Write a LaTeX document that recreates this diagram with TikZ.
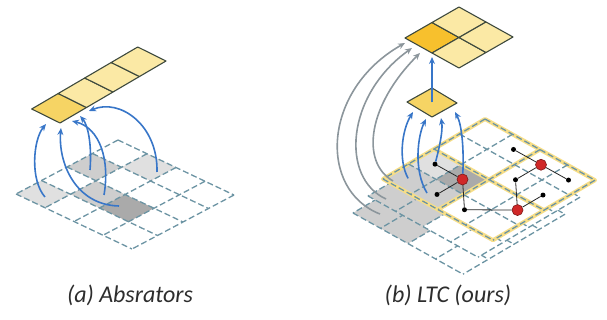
\documentclass[tikz,border=0pt]{standalone}
\usepackage{fontspec}
\setmainfont{Carlito}
\usetikzlibrary{arrows.meta}

\definecolor{gridc}{RGB}{108,148,163}
\definecolor{celllight}{RGB}{251,233,165}
\definecolor{cellmid}{RGB}{246,212,100}
\definecolor{celldark}{RGB}{247,192,45}
\definecolor{cellline}{RGB}{62,74,62}
\definecolor{arrblue}{RGB}{56,118,200}
\definecolor{arrgray}{RGB}{140,150,156}
\definecolor{winyel}{RGB}{247,222,135}
\definecolor{nodered}{RGB}{208,40,40}
\definecolor{shadeA}{RGB}{224,224,224}
\definecolor{shadeB}{RGB}{206,206,206}
\definecolor{shadeC}{RGB}{170,170,170}
\definecolor{labelc}{RGB}{45,45,45}

\tikzset{
  gridline/.style={gridc, line width=1.3pt, dash pattern=on 6pt off 3pt},
  tokencell/.style={draw=cellline, line width=1.1pt, line join=round},
  bluearrow/.style={arrblue, line width=1.6pt, -{Stealth[length=7pt,width=6pt]}},
  grayarrow/.style={arrgray, line width=1.6pt, -{Stealth[length=7pt,width=6pt]}},
  winline/.style={winyel, line width=4pt, line join=round},
  dotnode/.style={circle, fill=black, inner sep=0pt, minimum size=5pt},
  rednode/.style={circle, fill=nodered, draw=nodered!60!black, line width=0.6pt, inner sep=0pt, minimum size=11pt},
  graphedge/.style={black!85, line width=0.8pt},
  caption/.style={labelc, font=\fontsize{24}{28}\selectfont\itshape},
  leftlayer/.style={shift={(118pt,-140pt)}, x={(29pt,-13.75pt)}, y={(-25.5pt,-13.5pt)}},
  toplayer/.style={shift={(485pt,-119pt)}, x={(27.5pt,-15.3pt)}, y={(-25.5pt,-15pt)}},
}

\begin{document}
\begin{tikzpicture}[x=1pt,y=-1pt]
  \useasboundingbox (0,0) rectangle (607,320);

  % (a) grid of patches
  \begin{scope}[leftlayer]
    \fill[shadeA] (0,3) -- ++(1,0) -- ++(0,1) -- ++(-1,0) -- cycle;
    \fill[shadeB] (0,1) -- ++(1,0) -- ++(0,1) -- ++(-1,0) -- cycle;
    \fill[shadeA] (1,0) -- ++(1,0) -- ++(0,1) -- ++(-1,0) -- cycle;
    \fill[shadeB] (1,2) -- ++(1,0) -- ++(0,1) -- ++(-1,0) -- cycle;
    \fill[shadeC] (2,2) -- ++(1,0) -- ++(0,1) -- ++(-1,0) -- cycle;
    \foreach \k in {0,...,4}
      \draw[gridline] (\k,0) -- (\k,4) (0,\k) -- (4,\k);
  \end{scope}

  % (a) output tokens
  \begin{scope}[shift={(31.7pt,-109pt)}, x={(26.5pt,15.5pt)}, y={(28.3pt,-14pt)}]
    \filldraw[tokencell, fill=cellmid] (0,0) -- (1,0) -- (1,1) -- (0,1) -- cycle;
    \filldraw[tokencell, fill=celllight] (1,0) -- (2,0) -- (2,1) -- (1,1) -- cycle;
    \filldraw[tokencell, fill=celllight] (2,0) -- (3,0) -- (3,1) -- (2,1) -- cycle;
    \filldraw[tokencell, fill=celllight] (3,0) -- (4,0) -- (4,1) -- (3,1) -- cycle;
  \end{scope}

  \coordinate (sa1) at (45,197);
  \coordinate (sa2) at (119,206);
  \coordinate (sa3) at (104,195);
  \coordinate (sa4) at (90,170);
  \coordinate (sa5) at (157,172);
  \coordinate (ta1) at (46,124);
  \coordinate (ta2) at (61,128);
  \coordinate (ta3) at (72,121);
  \coordinate (ta4) at (80,116);
  \coordinate (ta5) at (89,111);
  \draw[bluearrow] (sa1) .. controls (30,180) and (33,140) .. (ta1);
  \draw[bluearrow] (sa2) .. controls (75,205) and (58,162) .. (ta2);
  \draw[bluearrow] (sa3) .. controls (110,160) and (100,128) .. (ta3);
  \draw[bluearrow] (sa4) .. controls (92,145) and (88,125) .. (ta4);
  \draw[bluearrow] (sa5) .. controls (158,125) and (120,98) .. (ta5);

  % (b) three feature levels
  \begin{scope}[shift={(-30pt,-34pt)}, toplayer]
    \fill[white] (0,0) -- (4,0) -- (4,4) -- (0,4) -- cycle;
    \fill[shadeB] (0,3) -- (2,3) -- (2,4) -- (0,4) -- cycle;
    \foreach \k in {0,...,4}
      \draw[gridline] (\k,0) -- (\k,4) (0,\k) -- (4,\k);
  \end{scope}
  \begin{scope}[shift={(-15pt,-17pt)}, toplayer]
    \fill[white] (0,0) -- (4,0) -- (4,4) -- (0,4) -- cycle;
    \fill[shadeB] (0,3) -- (2,3) -- (2,4) -- (0,4) -- cycle;
    \foreach \k in {0,...,4}
      \draw[gridline] (\k,0) -- (\k,4) (0,\k) -- (4,\k);
  \end{scope}
  \begin{scope}[toplayer]
    \fill[white] (0,0) -- (4,0) -- (4,4) -- (0,4) -- cycle;
    \fill[shadeA] (0,2) -- ++(1,0) -- ++(0,1) -- ++(-1,0) -- cycle;
    \fill[shadeB] (0,3) -- (2,3) -- (2,4) -- (0,4) -- cycle;
    \fill[shadeC] (1,2) -- ++(1,0) -- ++(0,1) -- ++(-1,0) -- cycle;
    \draw[winline] (0,0) -- (4,0) -- (4,4) -- (0,4) -- cycle
      (2,0) -- (2,4) (0,2) -- (4,2);
    \foreach \k in {0,...,4}
      \draw[gridline] (\k,0) -- (\k,4) (0,\k) -- (4,\k);
    % local graph
    \node[dotnode] (dA) at (0.5,2.5) {};
    \node[dotnode] (dB) at (1.5,3.5) {};
    \node[dotnode] (dC) at (2.5,3.5) {};
    \node[dotnode] (dD) at (2.5,1.5) {};
    \node[dotnode] (dE) at (3.5,1.5) {};
    \node[dotnode] (dF) at (1.5,0.5) {};
    \node[dotnode] (dG) at (3.5,0.5) {};
    \node[rednode] (rA) at (1.5,2.5) {};
    \node[rednode] (rB) at (3.5,2.5) {};
    \node[rednode] (rC) at (2.5,0.5) {};
    \coordinate (sb1) at (0.45,3.5);
  \end{scope}
  \draw[graphedge] (dA) -- (rA);
  \draw[graphedge] (dB) -- (rA);
  \draw[graphedge] (rA) -- (dC);
  \draw[graphedge] (dC) -- (rB);
  \draw[graphedge] (rB) -- (dD);
  \draw[graphedge] (rB) -- (dE);
  \draw[graphedge] (dD) -- (rC);
  \draw[graphedge] (rC) -- (dF);
  \draw[graphedge] (rC) -- (dG);

  % (b) pooled token
  \begin{scope}[shift={(407pt,-102pt)}, x={(25pt,14pt)}, y={(25pt,-15pt)}]
    \filldraw[tokencell, fill=cellmid] (0,0) -- (1,0) -- (1,1) -- (0,1) -- cycle;
    \coordinate (pc) at (0.5,0.5);
  \end{scope}

  % (b) output tokens
  \begin{scope}[shift={(405pt,-38pt)}, x={(27pt,15.5pt)}, y={(27pt,-15pt)}]
    \filldraw[tokencell, fill=celldark] (0,0) -- (1,0) -- (1,1) -- (0,1) -- cycle;
    \filldraw[tokencell, fill=celllight] (1,0) -- (2,0) -- (2,1) -- (1,1) -- cycle;
    \filldraw[tokencell, fill=celllight] (0,1) -- (1,1) -- (1,2) -- (0,2) -- cycle;
    \filldraw[tokencell, fill=celllight] (1,1) -- (2,1) -- (2,2) -- (1,2) -- cycle;
  \end{scope}

  \coordinate (tb0) at (432,57);
  \coordinate (tb1) at (413,112);
  \coordinate (tb2) at (426,119);
  \coordinate (tb3) at (441,118);
  \coordinate (tb4) at (455,112);
  \coordinate (sb2) at (427,193);
  \coordinate (tg1) at (405,43);
  \coordinate (tg2) at (412,48);
  \coordinate (tg3) at (420,53);
  \coordinate (sg1) at (380,214);
  \coordinate (sg2) at (386,199);
  \coordinate (sg3) at (393,181);
  \draw[bluearrow] (sb1) .. controls (398,160) and (402,130) .. (tb1);
  \draw[bluearrow] (sb2) .. controls (413,170) and (418,135) .. (tb2);
  \draw[bluearrow] (dA) .. controls (440,145) and (443,130) .. (tb3);
  \draw[bluearrow] (rA) .. controls (464,150) and (462,125) .. (tb4);
  \draw[grayarrow] (sg1) .. controls (318,190) and (322,90) .. (tg1);
  \draw[grayarrow] (sg2) .. controls (340,178) and (346,95) .. (tg2);
  \draw[grayarrow] (sg3) .. controls (360,162) and (368,105) .. (tg3);
  \draw[bluearrow, line width=2.2pt] (pc) -- (tb0);

  % captions
  \node[caption] (capa) at (130,295) {(a) Absrators};
  \node[caption] (capb) at (448,295) {(b) LTC (ours)};
\end{tikzpicture}
\end{document}
